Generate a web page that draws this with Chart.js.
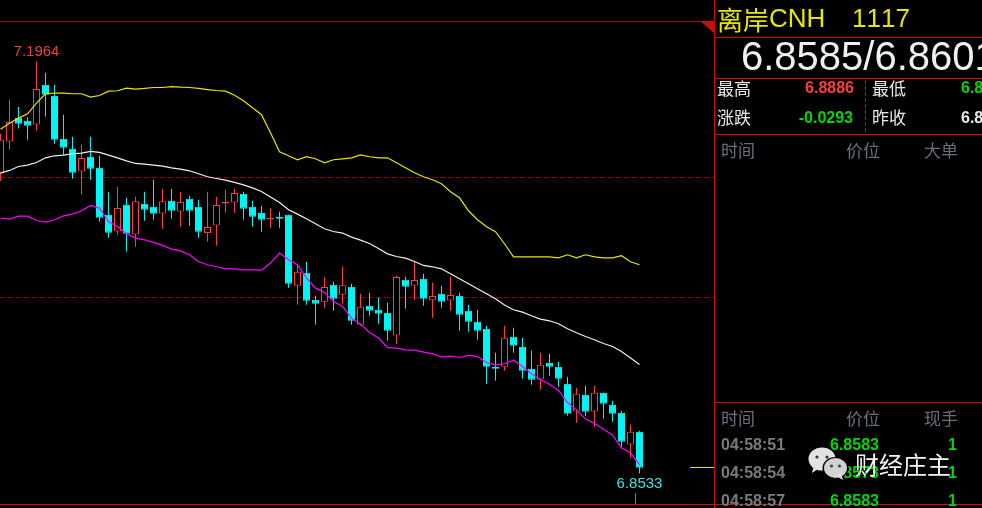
<!DOCTYPE html>
<html>
<head>
<meta charset="utf-8">
<style>
  html, body { margin: 0; padding: 0; background: #000; overflow: hidden; }
  canvas { display: block; }
</style>
<script src="https://cdn.jsdelivr.net/npm/chart.js@4/dist/chart.umd.min.js"></script>
</head>
<body>
<canvas id="myChart" width="982" height="508"></canvas>
<script>
const opens = [
  7.1039, 7.1300, 7.1498, 7.1473, 7.1442, 7.1773, 7.1681, 7.1323, 7.1239, 7.1050, 7.1173, 7.1081,
  7.0689, 7.0550, 7.0773, 7.0525, 7.0781, 7.0756, 7.0700, 7.0806, 7.0717, 7.0823, 7.0756, 7.0537,
  7.0600, 7.0783, 7.0792, 7.0864, 7.0756, 7.0706, 7.0650, 7.0673, 7.0689, 7.0098, 7.0206, 6.9981,
  6.9964, 7.0106, 7.0023, 7.0089, 6.9773, 6.9931, 6.9898, 6.9873, 6.9683, 7.0148, 7.0100, 7.0156,
  6.9978, 7.0031, 6.9975, 7.0014, 6.9889, 6.9798, 6.9739, 6.9423, 6.9423, 6.9673, 6.9589, 6.9406,
  6.9317, 6.9456, 6.9423, 6.9281, 6.9050, 6.9189, 6.9050, 6.9206, 6.9106, 6.9039, 6.8775, 6.8881,
];
const highs = [
  7.1364, 7.1648, 7.1587, 7.1503, 7.1964, 7.1873, 7.1773, 7.1523, 7.1339, 7.1273, 7.1339, 7.1181,
  7.0881, 7.0923, 7.0831, 7.0839, 7.0881, 7.0981, 7.0906, 7.0906, 7.0881, 7.0848, 7.0814, 7.0881,
  7.0839, 7.0898, 7.0906, 7.0881, 7.0806, 7.0764, 7.0748, 7.0714, 7.0689, 7.0273, 7.0298, 7.0014,
  7.0173, 7.0131, 7.0256, 7.0114, 7.0031, 7.0039, 6.9998, 6.9956, 7.0181, 7.0170, 7.0298, 7.0198,
  7.0123, 7.0098, 7.0173, 7.0039, 6.9939, 6.9898, 6.9764, 6.9539, 6.9764, 6.9748, 6.9664, 6.9556,
  6.9539, 6.9531, 6.9464, 6.9339, 6.9248, 6.9264, 6.9264, 6.9206, 6.9139, 6.9056, 6.8939, 6.8889,
];
const lows = [
  7.0973, 7.1231, 7.1409, 7.1314, 7.1392, 7.1506, 7.1281, 7.1187, 7.0989, 7.0856, 7.0981, 7.0631,
  7.0498, 7.0523, 7.0383, 7.0423, 7.0639, 7.0648, 7.0573, 7.0656, 7.0589, 7.0598, 7.0498, 7.0464,
  7.0431, 7.0706, 7.0706, 7.0648, 7.0589, 7.0548, 7.0581, 7.0581, 7.0081, 6.9939, 6.9939, 6.9773,
  6.9914, 6.9889, 6.9948, 6.9773, 6.9764, 6.9848, 6.9781, 6.9639, 6.9614, 6.9906, 6.9981, 6.9931,
  6.9831, 6.9914, 6.9889, 6.9723, 6.9714, 6.9648, 6.9281, 6.9306, 6.9389, 6.9539, 6.9323, 6.9273,
  6.9231, 6.9348, 6.9256, 6.9014, 6.8956, 6.9014, 6.8923, 6.8989, 6.8964, 6.8756, 6.8664, 6.8533,
];
const closes = [
  7.1314, 7.1462, 7.1448, 7.1431, 7.1737, 7.1689, 7.1314, 7.1248, 7.1039, 7.1162, 7.1073, 7.0664,
  7.0539, 7.0745, 7.0531, 7.0803, 7.0731, 7.0698, 7.0803, 7.0723, 7.0795, 7.0723, 7.0548, 7.0587,
  7.0770, 7.0795, 7.0870, 7.0739, 7.0673, 7.0648, 7.0664, 7.0656, 7.0114, 7.0214, 6.9973, 6.9948,
  7.0087, 6.9989, 7.0103, 6.9806, 6.9923, 6.9889, 6.9864, 6.9723, 7.0170, 7.0089, 7.0145, 6.9989,
  7.0012, 6.9964, 7.0020, 6.9856, 6.9798, 6.9723, 6.9423, 6.9406, 6.9664, 6.9598, 6.9389, 6.9314,
  6.9439, 6.9423, 6.9323, 6.9031, 6.9198, 6.9048, 6.9206, 6.9114, 6.9031, 6.8798, 6.8881, 6.8581,
];
const upperBand = [
  7.1403, 7.1453, 7.1495, 7.1531, 7.1620, 7.1698, 7.1703, 7.1703, 7.1698, 7.1698, 7.1670, 7.1683,
  7.1720, 7.1723, 7.1745, 7.1737, 7.1742, 7.1750, 7.1750, 7.1758, 7.1753, 7.1750, 7.1742, 7.1733,
  7.1725, 7.1720, 7.1685, 7.1639, 7.1581, 7.1523, 7.1373, 7.1214, 7.1181, 7.1148, 7.1173, 7.1156,
  7.1123, 7.1148, 7.1156, 7.1164, 7.1189, 7.1173, 7.1164, 7.1164, 7.1123, 7.1081, 7.1039, 7.1006,
  7.0981, 7.0948, 7.0881, 7.0831, 7.0723, 7.0648, 7.0589, 7.0548, 7.0448, 7.0339, 7.0339, 7.0339,
  7.0339, 7.0339, 7.0331, 7.0356, 7.0331, 7.0356, 7.0339, 7.0331, 7.0331, 7.0348, 7.0298, 7.0273,
];
const middleBand = [
  7.1037, 7.1059, 7.1092, 7.1103, 7.1125, 7.1164, 7.1181, 7.1187, 7.1198, 7.1203, 7.1217, 7.1209,
  7.1187, 7.1164, 7.1139, 7.1117, 7.1112, 7.1103, 7.1095, 7.1081, 7.1070, 7.1056, 7.1031, 7.1006,
  7.0992, 7.0978, 7.0959, 7.0939, 7.0914, 7.0884, 7.0837, 7.0792, 7.0731, 7.0695, 7.0656, 7.0614,
  7.0573, 7.0550, 7.0537, 7.0503, 7.0478, 7.0450, 7.0409, 7.0364, 7.0342, 7.0328, 7.0300, 7.0267,
  7.0256, 7.0239, 7.0198, 7.0156, 7.0114, 7.0073, 7.0031, 6.9989, 6.9937, 6.9898, 6.9878, 6.9848,
  6.9820, 6.9806, 6.9781, 6.9739, 6.9706, 6.9675, 6.9648, 6.9617, 6.9592, 6.9550, 6.9495, 6.9442,
];
const lowerBand = [
  7.0662, 7.0653, 7.0678, 7.0678, 7.0642, 7.0628, 7.0648, 7.0681, 7.0695, 7.0723, 7.0767, 7.0745,
  7.0633, 7.0592, 7.0531, 7.0495, 7.0481, 7.0459, 7.0434, 7.0403, 7.0389, 7.0356, 7.0298, 7.0273,
  7.0256, 7.0239, 7.0239, 7.0231, 7.0231, 7.0228, 7.0287, 7.0370, 7.0314, 7.0273, 7.0162, 7.0078,
  7.0042, 6.9967, 6.9925, 6.9828, 6.9778, 6.9708, 6.9662, 6.9583, 6.9578, 6.9564, 6.9562, 6.9545,
  6.9531, 6.9503, 6.9512, 6.9500, 6.9517, 6.9508, 6.9458, 6.9437, 6.9448, 6.9478, 6.9425, 6.9364,
  6.9314, 6.9278, 6.9225, 6.9125, 6.9064, 6.8987, 6.8950, 6.8903, 6.8853, 6.8745, 6.8706, 6.8606,
];
const gridPrices = [7.1, 7.0];
const highestLabel = "7.1964";
const lowestLabel = "6.8533";
const lastPrice = 6.8583;

const quoteName = "离岸";
const quoteSymbol = "CNH";
const quoteCode = "1117";
const quoteBidAsk = "6.8585/6.8601";
const statLabels = ["最高", "涨跌", "最低", "昨收"];
const statValues = ["6.8886", "-0.0293", "6.8533", "6.8878"];
const orderHeads = ["时间", "价位", "大单"];
const tradeHeads = ["时间", "价位", "现手"];
const tradeTimes = ["04:58:51", "04:58:54", "04:58:57"];
const tradePrices = ["6.8583", "6.8573", "6.8583"];
const tradeSizes = ["1", "1", "1"];
const watermark = "财经庄主";

const RED = "#ff3c3c";
const CYAN = "#00f5f5";
const LINE_RED = "#d00a0a";
const CJK = '"Noto Sans CJK SC"';
const LATIN = '"Liberation Sans"';

function drawText(ctx, text, x, y, font, color, align) {
  ctx.font = font;
  ctx.fillStyle = color;
  ctx.textAlign = align || "left";
  ctx.textBaseline = "middle";
  ctx.fillText(text, x, y);
}

function hLine(ctx, x1, x2, y, color) {
  ctx.fillStyle = color;
  ctx.fillRect(x1, y, x2 - x1, 1);
}

function drawBubble(ctx, cx, cy, rx, ry, tailX, tailY, eyes) {
  ctx.fillStyle = "#e2e2e2";
  ctx.beginPath();
  ctx.ellipse(cx, cy, rx, ry, 0, 0, Math.PI * 2);
  ctx.fill();
  ctx.beginPath();
  ctx.moveTo(tailX, tailY);
  ctx.lineTo(tailX - Math.sign(tailX - cx) * 2, cy + ry * 0.5);
  ctx.lineTo(tailX - Math.sign(tailX - cx) * 9, cy + ry * 0.7);
  ctx.closePath();
  ctx.fill();
  ctx.fillStyle = "#333";
  [-1, 1].forEach((s) => {
    ctx.beginPath();
    ctx.arc(cx + s * eyes, cy - 2, 1.6, 0, Math.PI * 2);
    ctx.fill();
  });
}

// chart labels that hang off the scales
const chartLabelsPlugin = {
  id: "chartLabels",
  afterDatasetsDraw(chart) {
    const { ctx, scales } = chart;
    const { x, y } = scales;
    ctx.save();
    hLine(ctx, 0, 714, 21, "#a01010");
    const hi = highs.indexOf(Math.max(...highs));
    const lo = lows.indexOf(Math.min(...lows));
    drawText(ctx, highestLabel, x.getPixelForValue(hi), y.getPixelForValue(highs[hi]) - 10, "15px " + LATIN, "#e84040", "center");
    drawText(ctx, lowestLabel, x.getPixelForValue(lo), y.getPixelForValue(lows[lo]) + 10, "15px " + LATIN, "#30e6e6", "center");
    ctx.fillStyle = "#808080";
    ctx.fillRect(635, 493, 1, 11);
    hLine(ctx, 690, 714, Math.floor(y.getPixelForValue(lastPrice)), "#e6e600");
    ctx.restore();
  },
};

// right hand quote panel, drawn over the price area
const quotePanelPlugin = {
  id: "quotePanel",
  afterDraw(chart) {
    const { ctx } = chart;
    ctx.save();
    ctx.fillStyle = "#000";
    ctx.fillRect(715, 0, 267, 508);

    ctx.fillStyle = "#c01010";
    ctx.beginPath();
    ctx.moveTo(700, 21);
    ctx.lineTo(715, 21);
    ctx.lineTo(715, 34);
    ctx.closePath();
    ctx.fill();

    ctx.fillStyle = LINE_RED;
    ctx.fillRect(714, 0, 1, 508);
    [37, 78, 134, 402].forEach((y) => hLine(ctx, 715, 982, y, LINE_RED));
    hLine(ctx, 0, 982, 504, LINE_RED);
    ctx.fillStyle = LINE_RED;
    for (let y = 80; y < 131; y += 6) ctx.fillRect(865, y, 1, 4);

    drawText(ctx, quoteName, 717, 20, "26px " + CJK, "#e6e600");
    drawText(ctx, quoteSymbol, 769, 20, "26px " + LATIN, "#e6e600");
    ctx.fontKerning = "none";
    drawText(ctx, quoteCode, 852, 20, "26px " + LATIN, "#e6e600");
    drawText(ctx, quoteBidAsk, 741, 59, "40px " + LATIN, "#f0f0f0");

    drawText(ctx, statLabels[0], 717, 89, "17px " + CJK, "#e8e8e8");
    drawText(ctx, statLabels[1], 717, 118, "17px " + CJK, "#e8e8e8");
    drawText(ctx, statLabels[2], 872, 89, "17px " + CJK, "#e8e8e8");
    drawText(ctx, statLabels[3], 872, 118, "17px " + CJK, "#e8e8e8");
    drawText(ctx, statValues[0], 854, 89, "bold 16px " + LATIN, RED, "right");
    drawText(ctx, statValues[1], 853, 119, "bold 16px " + LATIN, "#00d800", "right");
    drawText(ctx, statValues[2], 961, 89, "bold 16px " + LATIN, "#00d800");
    drawText(ctx, statValues[3], 961, 119, "bold 16px " + LATIN, "#e8e8e8");

    [721, 846, 924].forEach((x, i) => {
      drawText(ctx, orderHeads[i], x, 151, "17px " + CJK, "#67707a");
      drawText(ctx, tradeHeads[i], x, 419, "17px " + CJK, "#67707a");
    });
    [446, 474, 502].forEach((y, i) => {
      drawText(ctx, tradeTimes[i], 721, y, "bold 16px " + LATIN, "#7a7a7a");
      drawText(ctx, tradePrices[i], 830, y, "bold 16px " + LATIN, "#00d800");
      drawText(ctx, tradeSizes[i], 957, y, "bold 16px " + LATIN, "#00d800", "right");
    });

    // watermark
    drawBubble(ctx, 822, 459, 13.5, 11.5, 812, 473, 5);
    ctx.fillStyle = "#000";
    ctx.beginPath();
    ctx.ellipse(835.5, 468, 13, 11, 0, 0, Math.PI * 2);
    ctx.fill();
    ctx.globalAlpha = 0.93;
    drawBubble(ctx, 835.5, 468, 11.5, 10, 843, 480, 4);
    ctx.globalAlpha = 1;
    drawText(ctx, watermark, 855, 465, "24px " + CJK, "#f4f4f4");
    ctx.restore();
  },
};

const indexes = closes.map((_, i) => i);
const isUp = (i) => closes[i] >= opens[i];

function bandDataset(values, color) {
  return {
    type: "line",
    data: indexes.map((i) => ({ x: i, y: values[i] })),
    borderColor: color,
    borderWidth: 1.2,
    pointRadius: 0,
    tension: 0,
    order: 0,
  };
}

new Chart(document.getElementById("myChart").getContext("2d"), {
  data: {
    datasets: [
      bandDataset(upperBand, "#e6e600"),
      bandDataset(middleBand, "#f0f0f0"),
      bandDataset(lowerBand, "#ff00ff"),
      {
        type: "bar",
        data: indexes.map((i) => ({ x: i, y: [Math.min(opens[i], closes[i]), Math.max(opens[i], closes[i])] })),
        backgroundColor: (c) => (isUp(c.dataIndex) ? "#000" : CYAN),
        borderColor: (c) => (isUp(c.dataIndex) ? RED : CYAN),
        borderWidth: 1,
        borderSkipped: false,
        inflateAmount: 0,
        barThickness: 7,
        grouped: false,
        clip: false,
        order: 1,
      },
      {
        type: "bar",
        data: indexes.map((i) => ({ x: i, y: [lows[i], highs[i]] })),
        backgroundColor: (c) => (isUp(c.dataIndex) ? RED : CYAN),
        borderWidth: 0,
        inflateAmount: 0,
        barThickness: 1,
        grouped: false,
        clip: false,
        order: 2,
      },
    ],
  },
  options: {
    responsive: false,
    animation: false,
    events: [],
    layout: { padding: 0 },
    plugins: { legend: { display: false }, tooltip: { enabled: false } },
    scales: {
      x: {
        type: "linear",
        offset: false,
        min: -0.0556,
        max: 109.0556,
        display: false,
      },
      y: {
        min: 6.82459,
        max: 7.24792,
        afterBuildTicks(scale) {
          scale.ticks = gridPrices.map((value) => ({ value }));
        },
        border: { display: false, dash: [5, 3] },
        ticks: { display: false },
        grid: { color: "#8c0000", lineWidth: 1, drawTicks: false },
        afterFit(scale) {
          scale.width = 0;
        },
      },
    },
  },
  plugins: [chartLabelsPlugin, quotePanelPlugin],
});
</script>
</body>
</html>
